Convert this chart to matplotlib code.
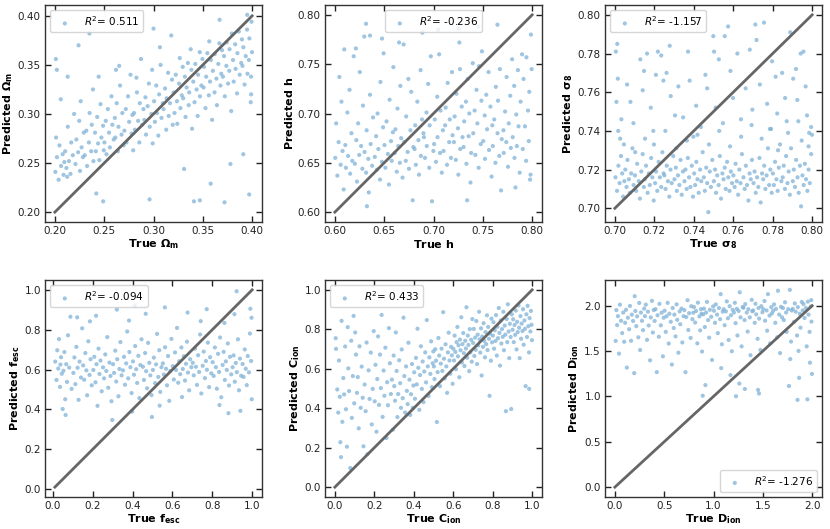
import matplotlib
matplotlib.use("Agg")
import matplotlib.pyplot as plt

# ---------------- data ----------------
omega_m_pts = [
(0.2005,0.241),(0.2021,0.256),(0.2038,0.233),(0.2047,0.268),(0.2063,0.247),(0.2079,0.259),(0.2088,0.238),(0.2012,0.276),(0.2096,0.251),
(0.2104,0.262),(0.2117,0.245),(0.2131,0.287),(0.2143,0.252),(0.2158,0.239),(0.2166,0.271),(0.2182,0.258),(0.2195,0.300),(0.2125,0.236),
(0.2209,0.249),(0.2218,0.274),(0.2236,0.261),(0.2247,0.293),(0.2255,0.242),(0.2271,0.266),(0.2284,0.256),(0.2293,0.281),(0.2262,0.313),
(0.2303,0.258),(0.2319,0.283),(0.2327,0.247),(0.2345,0.271),(0.2352,0.301),(0.2368,0.262),(0.2374,0.289),(0.2391,0.252),(0.2386,0.325),
(0.2407,0.281),(0.2415,0.262),(0.2429,0.297),(0.2438,0.270),(0.2451,0.253),(0.2463,0.310),(0.2472,0.276),(0.2489,0.288),(0.2496,0.263),(0.2444,0.338),
(0.2502,0.271),(0.2516,0.293),(0.2523,0.259),(0.2537,0.305),(0.2549,0.281),(0.2558,0.266),(0.2574,0.318),(0.2583,0.289),(0.2597,0.274),
(0.2608,0.296),(0.2613,0.276),(0.2627,0.311),(0.2639,0.262),(0.2645,0.287),(0.2661,0.329),(0.2676,0.279),(0.2684,0.301),(0.2698,0.268),(0.2652,0.349),
(0.2705,0.283),(0.2719,0.305),(0.2726,0.271),(0.2742,0.318),(0.2753,0.292),(0.2767,0.340),(0.2778,0.280),(0.2786,0.299),(0.2794,0.263),
(0.2803,0.301),(0.2811,0.284),(0.2832,0.322),(0.2844,0.293),(0.2856,0.271),(0.2861,0.311),(0.2873,0.356),(0.2885,0.289),(0.2898,0.305),(0.2827,0.337),
(0.2907,0.294),(0.2918,0.317),(0.2924,0.279),(0.2941,0.308),(0.2953,0.331),(0.2962,0.287),(0.2979,0.300),(0.2986,0.345),(0.2992,0.270),
(0.3006,0.313),(0.3014,0.292),(0.3028,0.329),(0.3035,0.301),(0.3049,0.278),(0.3057,0.320),(0.3072,0.350),(0.3081,0.296),(0.3094,0.311),(0.3065,0.368),
(0.3102,0.305),(0.3117,0.326),(0.3129,0.284),(0.3133,0.316),(0.3148,0.342),(0.3154,0.298),(0.3167,0.311),(0.3188,0.335),(0.3195,0.289),
(0.3204,0.322),(0.3213,0.301),(0.3226,0.340),(0.3238,0.313),(0.3241,0.290),(0.3259,0.331),(0.3266,0.357),(0.3273,0.306),(0.3287,0.319),(0.3296,0.348),
(0.3301,0.316),(0.3318,0.338),(0.3325,0.297),(0.3336,0.327),(0.3349,0.352),(0.3357,0.309),(0.3362,0.322),(0.3384,0.345),(0.3391,0.285),(0.3377,0.366),
(0.3403,0.333),(0.3416,0.312),(0.3424,0.351),(0.3437,0.325),(0.3448,0.298),(0.3452,0.340),(0.3469,0.363),(0.3471,0.318),(0.3485,0.329),(0.3496,0.356),
(0.3508,0.327),(0.3512,0.348),(0.3527,0.306),(0.3534,0.338),(0.3546,0.362),(0.3561,0.319),(0.3573,0.333),(0.3582,0.355),(0.3594,0.294),(0.3565,0.374),
(0.3602,0.344),(0.3619,0.322),(0.3621,0.361),(0.3638,0.336),(0.3643,0.309),(0.3657,0.351),(0.3668,0.372),(0.3679,0.329),(0.3687,0.341),(0.3695,0.365),
(0.3704,0.338),(0.3715,0.359),(0.3723,0.318),(0.3739,0.349),(0.3742,0.373),(0.3756,0.331),(0.3768,0.344),(0.3771,0.366),(0.3788,0.303),(0.3794,0.382),
(0.3806,0.355),(0.3813,0.333),(0.3828,0.371),(0.3832,0.346),(0.3847,0.321),(0.3851,0.362),(0.3865,0.384),(0.3874,0.340),(0.3889,0.352),(0.3897,0.376),
(0.3902,0.349),(0.3911,0.368),(0.3923,0.330),(0.3935,0.359),(0.3948,0.386),(0.3953,0.341),(0.3967,0.355),(0.3972,0.377),(0.3986,0.312),(0.3994,0.394),(0.3999,0.363),(0.3989,0.338),
(0.2010,0.356),(0.2020,0.345),(0.2060,0.315),(0.2130,0.338),(0.2240,0.370),(0.2350,0.382),(0.2420,0.219),(0.2490,0.211),(0.2960,0.213),
(0.3410,0.211),(0.3470,0.212),(0.3720,0.210),(0.3580,0.229),(0.3970,0.218),(0.3310,0.244),(0.3910,0.259),(0.3780,0.249),(0.3990,0.320),
(0.2620,0.345),(0.3180,0.380),(0.3670,0.396),(0.3950,0.401),(0.3000,0.387),
]

h_pts = [
(0.6004,0.655),(0.6013,0.690),(0.6025,0.637),(0.6038,0.671),(0.6046,0.737),(0.6059,0.648),(0.6067,0.712),(0.6078,0.662),(0.6089,0.623),(0.6095,0.765),
(0.6106,0.668),(0.6112,0.645),(0.6127,0.701),(0.6134,0.657),(0.6149,0.724),(0.6155,0.639),(0.6168,0.680),(0.6177,0.652),(0.6191,0.758),
(0.6203,0.649),(0.6218,0.673),(0.6224,0.631),(0.6236,0.690),(0.6247,0.658),(0.6253,0.742),(0.6266,0.667),(0.6279,0.644),(0.6285,0.708),(0.6298,0.778),
(0.6301,0.661),(0.6317,0.640),(0.6322,0.683),(0.6339,0.654),(0.6344,0.620),(0.6356,0.719),(0.6363,0.669),(0.6378,0.647),(0.6387,0.696),(0.6316,0.791),(0.6325,0.606),
(0.6405,0.656),(0.6418,0.677),(0.6426,0.643),(0.6433,0.700),(0.6441,0.664),(0.6458,0.633),(0.6462,0.732),(0.6477,0.651),(0.6489,0.686),(0.6494,0.761),
(0.6503,0.668),(0.6512,0.645),(0.6524,0.692),(0.6537,0.659),(0.6548,0.628),(0.6555,0.714),(0.6569,0.672),(0.6576,0.652),(0.6588,0.681),(0.6593,0.747),
(0.6607,0.660),(0.6614,0.684),(0.6628,0.641),(0.6635,0.705),(0.6643,0.667),(0.6659,0.650),(0.6664,0.728),(0.6672,0.675),(0.6686,0.635),(0.6697,0.770),
(0.6702,0.671),(0.6719,0.652),(0.6723,0.697),(0.6738,0.661),(0.6745,0.735),(0.6751,0.644),(0.6766,0.683),(0.6774,0.722),(0.6789,0.612),(0.6796,0.666),
(0.6808,0.664),(0.6815,0.688),(0.6821,0.648),(0.6836,0.712),(0.6847,0.673),(0.6853,0.638),(0.6869,0.744),(0.6872,0.657),(0.6884,0.694),(0.6898,0.680),
(0.6903,0.676),(0.6914,0.655),(0.6929,0.701),(0.6932,0.667),(0.6946,0.730),(0.6957,0.645),(0.6961,0.688),(0.6973,0.758),(0.6985,0.611),(0.6999,0.662),
(0.7006,0.669),(0.7013,0.694),(0.7025,0.651),(0.7038,0.717),(0.7041,0.676),(0.7057,0.760),(0.7066,0.660),(0.7072,0.703),(0.7084,0.640),(0.7095,0.683),(0.7048,0.785),
(0.7102,0.662),(0.7118,0.688),(0.7123,0.706),(0.7137,0.648),(0.7144,0.731),(0.7159,0.671),(0.7165,0.694),(0.7177,0.655),(0.7188,0.742),(0.7193,0.678),
(0.7207,0.671),(0.7214,0.697),(0.7226,0.653),(0.7233,0.720),(0.7248,0.685),(0.7252,0.638),(0.7268,0.745),(0.7271,0.664),(0.7286,0.707),(0.7294,0.676),(0.7262,0.772),
(0.7305,0.666),(0.7311,0.692),(0.7329,0.712),(0.7334,0.649),(0.7347,0.735),(0.7356,0.677),(0.7363,0.700),(0.7375,0.630),(0.7382,0.660),(0.7398,0.751),(0.7341,0.612),
(0.7403,0.680),(0.7417,0.703),(0.7424,0.658),(0.7436,0.724),(0.7445,0.690),(0.7458,0.645),(0.7461,0.748),(0.7479,0.669),(0.7486,0.713),(0.7491,0.763),
(0.7504,0.672),(0.7519,0.698),(0.7522,0.654),(0.7535,0.719),(0.7543,0.684),(0.7558,0.742),(0.7563,0.663),(0.7577,0.707),(0.7589,0.636),(0.7596,0.688),
(0.7601,0.667),(0.7616,0.694),(0.7628,0.650),(0.7632,0.727),(0.7649,0.680),(0.7654,0.713),(0.7667,0.657),(0.7673,0.745),(0.7685,0.622),(0.7692,0.674),(0.7648,0.790),
(0.7709,0.683),(0.7712,0.660),(0.7726,0.702),(0.7738,0.671),(0.7741,0.737),(0.7755,0.646),(0.7763,0.690),(0.7778,0.718),(0.7784,0.665),(0.7797,0.755),
(0.7803,0.676),(0.7818,0.728),(0.7821,0.655),(0.7839,0.699),(0.7845,0.667),(0.7856,0.744),(0.7862,0.687),(0.7874,0.640),(0.7883,0.712),(0.7898,0.760),(0.7831,0.625),
(0.7905,0.664),(0.7913,0.735),(0.7927,0.687),(0.7939,0.652),(0.7942,0.757),(0.7958,0.703),(0.7966,0.672),(0.7971,0.722),(0.7984,0.638),(0.7995,0.745),(0.7988,0.780),(0.7979,0.633),
(0.6213,0.766),(0.6478,0.776),(0.6651,0.772),(0.6887,0.782),(0.7253,0.786),(0.7455,0.788),(0.6356,0.779),
]

sigma8_pts = [
(0.7003,0.716),(0.7011,0.709),(0.7018,0.722),(0.7024,0.713),(0.7031,0.727),(0.7037,0.718),(0.7042,0.706),(0.7048,0.714),
(0.7053,0.720),(0.7059,0.711),(0.7064,0.725),(0.7071,0.715),(0.7076,0.708),(0.7083,0.718),(0.7089,0.731),(0.7095,0.712),
(0.7102,0.717),(0.7108,0.709),(0.7113,0.723),(0.7121,0.714),(0.7127,0.705),(0.7134,0.719),(0.7141,0.728),(0.7147,0.711),
(0.7152,0.715),(0.7158,0.722),(0.7166,0.708),(0.7172,0.718),(0.7177,0.712),(0.7184,0.726),(0.7190,0.716),(0.7197,0.704),
(0.7204,0.713),(0.7209,0.719),(0.7215,0.709),(0.7222,0.724),(0.7228,0.716),(0.7235,0.711),(0.7241,0.729),(0.7247,0.718),
(0.7251,0.717),(0.7257,0.710),(0.7263,0.722),(0.7269,0.714),(0.7276,0.706),(0.7282,0.720),(0.7288,0.713),(0.7296,0.727),
(0.7302,0.715),(0.7309,0.721),(0.7314,0.709),(0.7320,0.717),(0.7327,0.712),(0.7333,0.725),(0.7339,0.707),(0.7345,0.719),
(0.7353,0.714),(0.7358,0.720),(0.7364,0.710),(0.7370,0.726),(0.7376,0.716),(0.7383,0.711),(0.7390,0.722),(0.7396,0.706),
(0.7402,0.718),(0.7407,0.712),(0.7413,0.724),(0.7419,0.715),(0.7425,0.708),(0.7432,0.720),(0.7438,0.714),(0.7445,0.729),
(0.7451,0.716),(0.7456,0.709),(0.7463,0.721),(0.7468,0.713),(0.7474,0.698),(0.7481,0.719),(0.7487,0.711),(0.7494,0.725),
(0.7502,0.714),(0.7508,0.720),(0.7513,0.708),(0.7519,0.717),(0.7526,0.712),(0.7532,0.727),(0.7538,0.705),(0.7545,0.718),
(0.7551,0.715),(0.7557,0.721),(0.7562,0.710),(0.7569,0.724),(0.7575,0.716),(0.7581,0.709),(0.7588,0.719),(0.7594,0.713),
(0.7601,0.717),(0.7607,0.711),(0.7612,0.723),(0.7618,0.714),(0.7625,0.707),(0.7631,0.720),(0.7637,0.713),(0.7644,0.728),
(0.7652,0.716),(0.7658,0.710),(0.7664,0.722),(0.7670,0.712),(0.7677,0.704),(0.7683,0.718),(0.7689,0.715),(0.7695,0.725),
(0.7703,0.713),(0.7708,0.719),(0.7714,0.708),(0.7721,0.716),(0.7727,0.711),(0.7733,0.726),(0.7739,0.703),(0.7746,0.718),
(0.7752,0.715),(0.7757,0.722),(0.7763,0.710),(0.7769,0.717),(0.7776,0.731),(0.7782,0.712),(0.7788,0.720),(0.7795,0.708),
(0.7801,0.718),(0.7806,0.712),(0.7812,0.724),(0.7819,0.715),(0.7825,0.709),(0.7831,0.721),(0.7837,0.733),(0.7844,0.714),
(0.7851,0.716),(0.7856,0.722),(0.7862,0.710),(0.7868,0.727),(0.7875,0.713),(0.7881,0.719),(0.7887,0.707),(0.7893,0.731),
(0.7902,0.714),(0.7907,0.720),(0.7913,0.711),(0.7919,0.725),(0.7926,0.716),(0.7932,0.708),(0.7938,0.722),(0.7944,0.701),(0.7947,0.735),
(0.7951,0.717),(0.7957,0.712),(0.7963,0.723),(0.7969,0.715),(0.7976,0.709),(0.7982,0.720),(0.7988,0.713),(0.7995,0.728),(0.7999,0.738),
(0.7005,0.781),(0.7012,0.785),(0.7015,0.767),(0.7008,0.755),(0.7033,0.746),(0.7027,0.736),(0.7062,0.764),(0.7079,0.755),(0.7094,0.744),
(0.7129,0.777),(0.7141,0.761),(0.7148,0.771),(0.7163,0.780),(0.7182,0.752),(0.7195,0.740),(0.7218,0.781),(0.7208,0.769),(0.7235,0.779),
(0.7246,0.766),(0.7262,0.770),(0.7278,0.784),(0.7283,0.758),(0.7305,0.748),(0.7322,0.763),(0.7346,0.747),(0.7371,0.781),(0.7379,0.766),
(0.7398,0.737),(0.7412,0.753),(0.7436,0.742),(0.7459,0.769),(0.7468,0.762),(0.7499,0.789),(0.7503,0.781),(0.7511,0.752),(0.7527,0.777),
(0.7548,0.744),(0.7557,0.789),(0.7574,0.794),(0.7586,0.771),(0.7599,0.757),(0.7621,0.780),(0.7639,0.746),(0.7663,0.762),(0.7684,0.782),
(0.7697,0.751),(0.7712,0.795),(0.7718,0.787),(0.7735,0.764),(0.7756,0.796),(0.7772,0.754),(0.7786,0.741),(0.7797,0.776),(0.7815,0.768),
(0.7823,0.749),(0.7848,0.770),(0.7863,0.757),(0.7871,0.745),(0.7889,0.791),(0.7904,0.767),(0.7918,0.772),(0.7925,0.756),(0.7942,0.780),
(0.7956,0.781),(0.7967,0.763),(0.7974,0.748),(0.7985,0.739),(0.7995,0.742),
(0.7017,0.740),(0.7046,0.733),(0.7103,0.729),(0.7153,0.736),(0.7198,0.733),(0.7256,0.740),(0.7311,0.731),(0.7365,0.735),(0.7419,0.738),
(0.7477,0.733),(0.7529,0.740),(0.7584,0.732),(0.7640,0.737),(0.7693,0.743),(0.7744,0.736),(0.7792,0.741),(0.7827,0.730),(0.7878,0.739),
(0.7930,0.745),(0.7982,0.732),
]

fesc_pts = [
(0.012,0.640),(0.018,0.548),(0.022,0.697),(0.027,0.605),(0.031,0.753),(0.036,0.513),(0.041,0.662),(0.045,0.579),(0.049,0.402),(0.038,0.625),
(0.053,0.594),(0.058,0.688),(0.062,0.451),(0.067,0.627),(0.071,0.538),(0.076,0.772),(0.082,0.610),(0.088,0.865),(0.094,0.503),(0.064,0.372),
(0.103,0.583),(0.108,0.661),(0.113,0.527),(0.118,0.714),(0.124,0.609),(0.129,0.448),(0.134,0.640),(0.141,0.560),(0.147,0.807),(0.122,0.862),
(0.152,0.621),(0.157,0.549),(0.163,0.683),(0.168,0.596),(0.172,0.471),(0.178,0.742),(0.184,0.573),(0.189,0.652),(0.195,0.521),(0.186,0.842),
(0.203,0.598),(0.208,0.664),(0.214,0.536),(0.219,0.627),(0.224,0.418),(0.229,0.705),(0.234,0.578),(0.239,0.645),(0.245,0.491),(0.217,0.870),
(0.252,0.611),(0.257,0.556),(0.263,0.676),(0.268,0.593),(0.273,0.763),(0.278,0.509),(0.284,0.635),(0.289,0.568),(0.294,0.441),(0.298,0.347),
(0.302,0.627),(0.307,0.583),(0.313,0.695),(0.318,0.540),(0.323,0.652),(0.329,0.466),(0.334,0.603),(0.339,0.738),(0.345,0.571),(0.321,0.901),
(0.352,0.596),(0.357,0.664),(0.362,0.524),(0.368,0.631),(0.373,0.791),(0.378,0.556),(0.384,0.688),(0.389,0.612),(0.395,0.482),(0.398,0.389),(0.382,0.846),
(0.402,0.641),(0.407,0.574),(0.413,0.718),(0.418,0.602),(0.423,0.533),(0.429,0.669),(0.434,0.457),(0.439,0.623),(0.445,0.752),(0.411,0.921),
(0.452,0.614),(0.457,0.548),(0.463,0.683),(0.468,0.592),(0.473,0.506),(0.478,0.734),(0.484,0.634),(0.489,0.571),(0.495,0.472),(0.497,0.362),(0.466,0.880),
(0.502,0.598),(0.507,0.660),(0.513,0.532),(0.518,0.626),(0.523,0.779),(0.529,0.563),(0.534,0.697),(0.539,0.488),(0.545,0.612),(0.536,0.419),
(0.552,0.631),(0.557,0.575),(0.563,0.712),(0.568,0.604),(0.573,0.521),(0.578,0.668),(0.584,0.443),(0.589,0.593),(0.595,0.754),(0.562,0.912),
(0.602,0.617),(0.607,0.550),(0.613,0.686),(0.618,0.598),(0.623,0.809),(0.629,0.534),(0.634,0.642),(0.639,0.577),(0.645,0.711),(0.648,0.462),
(0.652,0.603),(0.657,0.667),(0.663,0.545),(0.668,0.629),(0.673,0.740),(0.678,0.585),(0.684,0.496),(0.689,0.652),(0.695,0.612),(0.676,0.886),
(0.702,0.634),(0.707,0.571),(0.713,0.705),(0.718,0.614),(0.723,0.523),(0.729,0.672),(0.734,0.588),(0.739,0.776),(0.745,0.480),(0.742,0.843),
(0.752,0.619),(0.757,0.690),(0.763,0.557),(0.768,0.643),(0.773,0.599),(0.778,0.735),(0.784,0.512),(0.789,0.662),(0.795,0.581),(0.772,0.903),
(0.802,0.637),(0.807,0.568),(0.813,0.711),(0.818,0.612),(0.823,0.504),(0.829,0.679),(0.834,0.588),(0.839,0.761),(0.845,0.461),(0.836,0.422),
(0.852,0.623),(0.857,0.689),(0.863,0.548),(0.868,0.641),(0.873,0.598),(0.878,0.731),(0.884,0.520),(0.889,0.664),(0.895,0.576),(0.881,0.381),(0.861,0.834),
(0.902,0.612),(0.907,0.671),(0.913,0.539),(0.918,0.633),(0.923,0.587),(0.929,0.752),(0.934,0.496),(0.939,0.655),(0.945,0.569),(0.922,0.993),(0.941,0.393),(0.911,0.878),
(0.952,0.628),(0.957,0.563),(0.963,0.701),(0.968,0.604),(0.973,0.522),(0.978,0.668),(0.984,0.586),(0.989,0.781),(0.995,0.643),(0.998,0.451),(0.991,0.905),(0.997,0.860),
]

cion_pts = [
(0.004,0.755),(0.006,0.701),(0.012,0.495),(0.017,0.378),(0.021,0.642),(0.025,0.458),(0.028,0.228),(0.031,0.152),(0.034,0.843),(0.038,0.331),
(0.043,0.553),(0.047,0.470),(0.052,0.713),(0.056,0.395),(0.061,0.205),(0.065,0.811),(0.068,0.602),(0.072,0.487),(0.078,0.097),(0.083,0.742),
(0.086,0.351),(0.091,0.563),(0.095,0.868),(0.098,0.425),
(0.103,0.784),(0.107,0.672),(0.112,0.478),(0.116,0.558),(0.121,0.298),(0.125,0.714),(0.131,0.402),(0.136,0.611),(0.141,0.453),(0.145,0.207),
(0.151,0.520),(0.156,0.385),(0.161,0.733),(0.165,0.167),(0.171,0.592),(0.176,0.447),(0.182,0.682),(0.187,0.318),(0.192,0.498),(0.197,0.791),
(0.202,0.435),(0.206,0.620),(0.211,0.281),(0.215,0.548),(0.219,0.764),(0.224,0.417),(0.229,0.672),(0.233,0.502),(0.237,0.873),(0.242,0.356),
(0.247,0.591),(0.251,0.463),(0.256,0.707),(0.261,0.249),(0.265,0.532),(0.269,0.415),(0.274,0.806),(0.279,0.628),(0.284,0.472),(0.289,0.545),
(0.294,0.291),(0.298,0.667),
(0.301,0.512),(0.305,0.438),(0.309,0.784),(0.313,0.589),(0.317,0.355),(0.321,0.472),(0.326,0.643),(0.331,0.527),(0.335,0.402),(0.339,0.698),
(0.344,0.451),(0.348,0.859),(0.352,0.563),(0.356,0.378),(0.361,0.612),(0.365,0.488),(0.369,0.421),(0.373,0.732),(0.378,0.545),(0.382,0.366),
(0.386,0.471),(0.391,0.624),(0.395,0.402),(0.398,0.515),
(0.402,0.582),(0.406,0.448),(0.411,0.655),(0.415,0.521),(0.419,0.803),(0.423,0.605),(0.428,0.392),(0.432,0.568),(0.436,0.714),(0.441,0.498),
(0.445,0.637),(0.449,0.431),(0.453,0.586),(0.458,0.683),(0.462,0.531),(0.466,0.847),(0.471,0.612),(0.475,0.462),(0.479,0.658),(0.484,0.574),
(0.488,0.739),(0.492,0.507),(0.496,0.628),(0.499,0.688),
(0.502,0.612),(0.505,0.548),(0.509,0.699),(0.513,0.641),(0.517,0.330),(0.521,0.583),(0.525,0.756),(0.529,0.667),(0.533,0.512),(0.537,0.626),
(0.541,0.702),(0.545,0.589),(0.549,0.887),(0.553,0.651),(0.557,0.551),(0.561,0.724),(0.565,0.612),(0.569,0.478),(0.573,0.683),(0.577,0.783),
(0.581,0.642),(0.585,0.575),(0.589,0.711),(0.593,0.668),(0.597,0.524),
(0.601,0.701),(0.604,0.642),(0.607,0.768),(0.611,0.685),(0.614,0.598),(0.617,0.735),(0.621,0.812),(0.624,0.663),(0.627,0.719),(0.631,0.557),
(0.634,0.748),(0.637,0.694),(0.641,0.861),(0.644,0.632),(0.647,0.725),(0.651,0.781),(0.654,0.679),(0.657,0.614),(0.661,0.742),(0.664,0.703),
(0.667,0.912),(0.671,0.656),(0.674,0.768),(0.677,0.721),(0.681,0.588),(0.684,0.801),(0.687,0.684),(0.691,0.747),(0.694,0.636),(0.697,0.852),
(0.701,0.731),(0.704,0.802),(0.707,0.665),(0.711,0.758),(0.714,0.696),(0.717,0.842),(0.721,0.624),(0.724,0.773),(0.727,0.718),(0.731,0.889),
(0.734,0.749),(0.737,0.682),(0.741,0.805),(0.744,0.566),(0.747,0.763),(0.751,0.711),(0.754,0.831),(0.757,0.742),(0.761,0.658),(0.764,0.786),
(0.767,0.725),(0.771,0.871),(0.774,0.695),(0.777,0.812),(0.781,0.752),(0.784,0.463),(0.787,0.778),(0.791,0.641),(0.794,0.854),(0.797,0.734),
(0.801,0.768),(0.804,0.836),(0.807,0.702),(0.811,0.795),(0.814,0.741),(0.817,0.872),(0.821,0.667),(0.824,0.813),(0.827,0.755),(0.831,0.908),
(0.834,0.782),(0.837,0.616),(0.841,0.845),(0.844,0.728),(0.847,0.801),(0.851,0.762),(0.854,0.889),(0.857,0.694),(0.861,0.819),(0.864,0.773),
(0.867,0.385),(0.871,0.852),(0.874,0.735),(0.877,0.927),(0.881,0.789),(0.884,0.654),(0.887,0.828),(0.891,0.761),(0.894,0.396),(0.897,0.876),
(0.901,0.798),(0.904,0.851),(0.907,0.735),(0.911,0.822),(0.914,0.772),(0.917,0.895),(0.921,0.698),(0.924,0.838),(0.927,0.786),(0.931,0.921),
(0.934,0.808),(0.937,0.654),(0.941,0.867),(0.944,0.752),(0.947,0.829),(0.951,0.791),(0.954,0.902),(0.957,0.722),(0.961,0.845),(0.964,0.803),
(0.967,0.512),(0.971,0.876),(0.974,0.761),(0.977,0.919),(0.981,0.816),(0.984,0.683),(0.987,0.857),(0.991,0.789),(0.994,0.893),(0.997,0.823),
(0.999,0.745),(0.985,0.498),
]

dion_pts = [
(0.008,1.612),(0.015,1.952),(0.023,1.786),(0.031,1.885),(0.042,1.472),(0.051,2.012),(0.063,1.834),(0.074,1.698),(0.085,1.925),(0.094,1.603),
(0.104,1.812),(0.113,1.955),(0.121,1.318),(0.132,1.868),(0.145,1.741),(0.153,1.998),(0.164,1.614),(0.172,1.902),(0.185,1.832),(0.196,1.257),(0.201,2.105),
(0.208,1.942),(0.217,1.775),(0.226,1.883),(0.238,1.652),(0.247,2.031),(0.256,1.512),(0.264,1.925),(0.275,1.834),(0.286,1.731),(0.297,1.968),
(0.305,1.885),(0.314,2.012),(0.326,1.624),(0.335,1.935),(0.343,1.782),(0.357,1.398),(0.364,1.871),(0.376,2.054),(0.385,1.705),(0.394,1.952),
(0.403,1.832),(0.412,1.962),(0.425,1.268),(0.433,1.895),(0.446,1.658),(0.452,2.021),(0.466,1.784),(0.474,1.923),(0.487,1.442),(0.495,1.868),
(0.504,1.945),(0.516,1.712),(0.524,1.884),(0.535,2.032),(0.546,1.583),(0.553,1.912),(0.567,1.823),(0.578,1.352),(0.586,1.975),(0.597,1.754),
(0.603,1.902),(0.615,1.662),(0.626,2.015),(0.632,1.845),(0.644,1.482),(0.657,1.938),(0.663,1.796),(0.675,1.968),(0.684,1.595),(0.696,1.885),
(0.705,1.952),(0.716,1.268),(0.724,1.875),(0.737,2.061),(0.745,1.732),(0.753,1.918),(0.768,1.645),(0.774,1.995),(0.786,1.852),(0.795,1.923),
(0.802,1.985),(0.814,1.815),(0.823,1.942),(0.836,1.585),(0.842,2.034),(0.857,1.883),(0.865,1.728),(0.873,1.962),(0.884,1.495),(0.896,1.905),(0.878,1.912),(0.891,1.008),
(0.903,1.968),(0.912,1.765),(0.925,1.925),(0.934,2.042),(0.945,1.842),(0.956,1.648),(0.963,1.955),(0.977,1.878),(0.985,1.402),(0.996,1.992),(0.918,1.125),
(1.004,1.945),(1.015,1.812),(1.023,2.015),(1.036,1.902),(1.044,1.698),(1.056,1.975),(1.067,1.852),(1.073,2.128),(1.085,1.575),(1.094,1.935),(1.078,1.312),
(1.104,1.962),(1.113,1.785),(1.126,1.938),(1.135,2.048),(1.146,1.862),(1.153,1.622),(1.164,1.995),(1.177,1.895),(1.186,1.498),(1.195,1.955),(1.172,1.235),
(1.207,1.925),(1.216,2.032),(1.224,1.808),(1.237,1.965),(1.243,1.672),(1.255,1.942),(1.266,2.148),(1.274,1.872),(1.285,1.552),(1.296,1.985),(1.228,1.002),(1.262,1.142),
(1.304,1.978),(1.315,1.842),(1.322,2.018),(1.337,1.925),(1.346,1.715),(1.354,1.962),(1.368,1.872),(1.375,1.455),(1.387,2.065),(1.393,1.938),(1.318,1.082),
(1.402,1.948),(1.418,1.812),(1.425,2.022),(1.433,1.905),(1.447,1.635),(1.456,1.975),(1.463,1.858),(1.476,1.512),(1.485,1.995),(1.496,1.928),(1.452,1.072),(1.461,1.032),
(1.504,1.962),(1.517,2.052),(1.523,1.835),(1.538,1.948),(1.544,1.725),(1.552,2.128),(1.568,1.892),(1.575,1.585),(1.586,1.985),(1.592,1.915),
(1.605,1.945),(1.614,2.015),(1.627,1.812),(1.633,1.965),(1.646,1.652),(1.654,2.165),(1.666,1.902),(1.675,1.478),(1.684,1.988),(1.695,1.872),
(1.704,1.975),(1.713,1.842),(1.725,2.038),(1.736,1.925),(1.742,1.712),(1.757,1.962),(1.765,1.115),(1.774,2.175),(1.786,1.605),(1.792,1.948),(1.778,1.412),
(1.803,1.965),(1.816,1.822),(1.824,2.025),(1.833,1.935),(1.847,1.672),(1.855,1.985),(1.862,1.502),(1.874,1.912),(1.882,1.758),(1.895,2.042),(1.852,0.962),(1.868,1.205),
(1.904,1.948),(1.912,2.018),(1.923,1.865),(1.937,1.975),(1.945,1.552),(1.956,2.045),(1.963,1.902),(1.974,1.712),(1.985,1.992),(1.993,1.825),
(1.998,1.248),(1.952,0.968),(1.978,1.372),(1.991,2.062),
]

param_labels = [r"$\mathbf{\Omega_m}$", r"$\mathbf{h}$", r"$\mathbf{\sigma_8}$",
                r"$\mathbf{f_{esc}}$", r"$\mathbf{C_{ion}}$", r"$\mathbf{D_{ion}}$"]
r2_values = ["0.511", "-0.236", "-1.157", "-0.094", "0.433", "-1.276"]
ranges = [(0.20, 0.40), (0.60, 0.80), (0.70, 0.80), (0.01, 1.0), (0.0, 1.0), (0.0, 2.0)]
xticks = [[0.20, 0.25, 0.30, 0.35, 0.40], [0.60, 0.65, 0.70, 0.75, 0.80],
          [0.70, 0.72, 0.74, 0.76, 0.78, 0.80], [0.0, 0.2, 0.4, 0.6, 0.8, 1.0],
          [0.0, 0.2, 0.4, 0.6, 0.8, 1.0], [0.0, 0.5, 1.0, 1.5, 2.0]]
tick_fmt = ["{:.2f}", "{:.2f}", "{:.2f}", "{:.1f}", "{:.1f}", "{:.1f}"]
legend_locs = ["upper left", "upper center", "upper left", "upper left", "upper left", "lower right"]
all_pts = [omega_m_pts, h_pts, sigma8_pts, fesc_pts, cion_pts, dion_pts]

# ---------------- figure ----------------
fig = plt.figure(figsize=(8.3, 5.29), dpi=100)
W, H = 830, 529
lefts = [45, 325, 605]
tops = [5, 280]
aw, ah = 217, 217

point_color = "#7fb2d8"
for i in range(6):
    r, c = divmod(i, 3)
    ax = fig.add_axes([lefts[c] / W, 1 - (tops[r] + ah) / H, aw / W, ah / H])
    xs = [p[0] for p in all_pts[i]]
    ys = [p[1] for p in all_pts[i]]
    ax.scatter(xs, ys, s=9, color=point_color, alpha=0.75, edgecolors="none",
               label=r"$R^2$= " + r2_values[i], zorder=2)
    lo, hi = ranges[i]
    ax.plot([lo, hi], [lo, hi], color="#666666", lw=2.0, zorder=3)
    ax.set_xticks(xticks[i])
    ax.set_xticklabels([tick_fmt[i].format(t) for t in xticks[i]])
    ax.set_yticks(xticks[i])
    ax.set_yticklabels([tick_fmt[i].format(t) for t in xticks[i]])
    ax.tick_params(direction="in", top=True, right=True, length=4, width=1,
                   labelsize=7.5, pad=3, colors="#222222")
    for sp in ax.spines.values():
        sp.set_color("#333333")
        sp.set_linewidth(1.0)
    ax.set_xlabel("True " + param_labels[i], fontsize=8, fontweight="bold", labelpad=1)
    ax.set_ylabel("Predicted " + param_labels[i], fontsize=8, fontweight="bold", labelpad=2)
    leg = ax.legend(loc=legend_locs[i], fontsize=7.5, scatterpoints=1, frameon=True,
                    handletextpad=0.8, borderpad=0.4, fancybox=True)
    leg.get_frame().set_edgecolor("#cccccc")
    leg.set_zorder(5)

fig.savefig("out.png", dpi=100)
